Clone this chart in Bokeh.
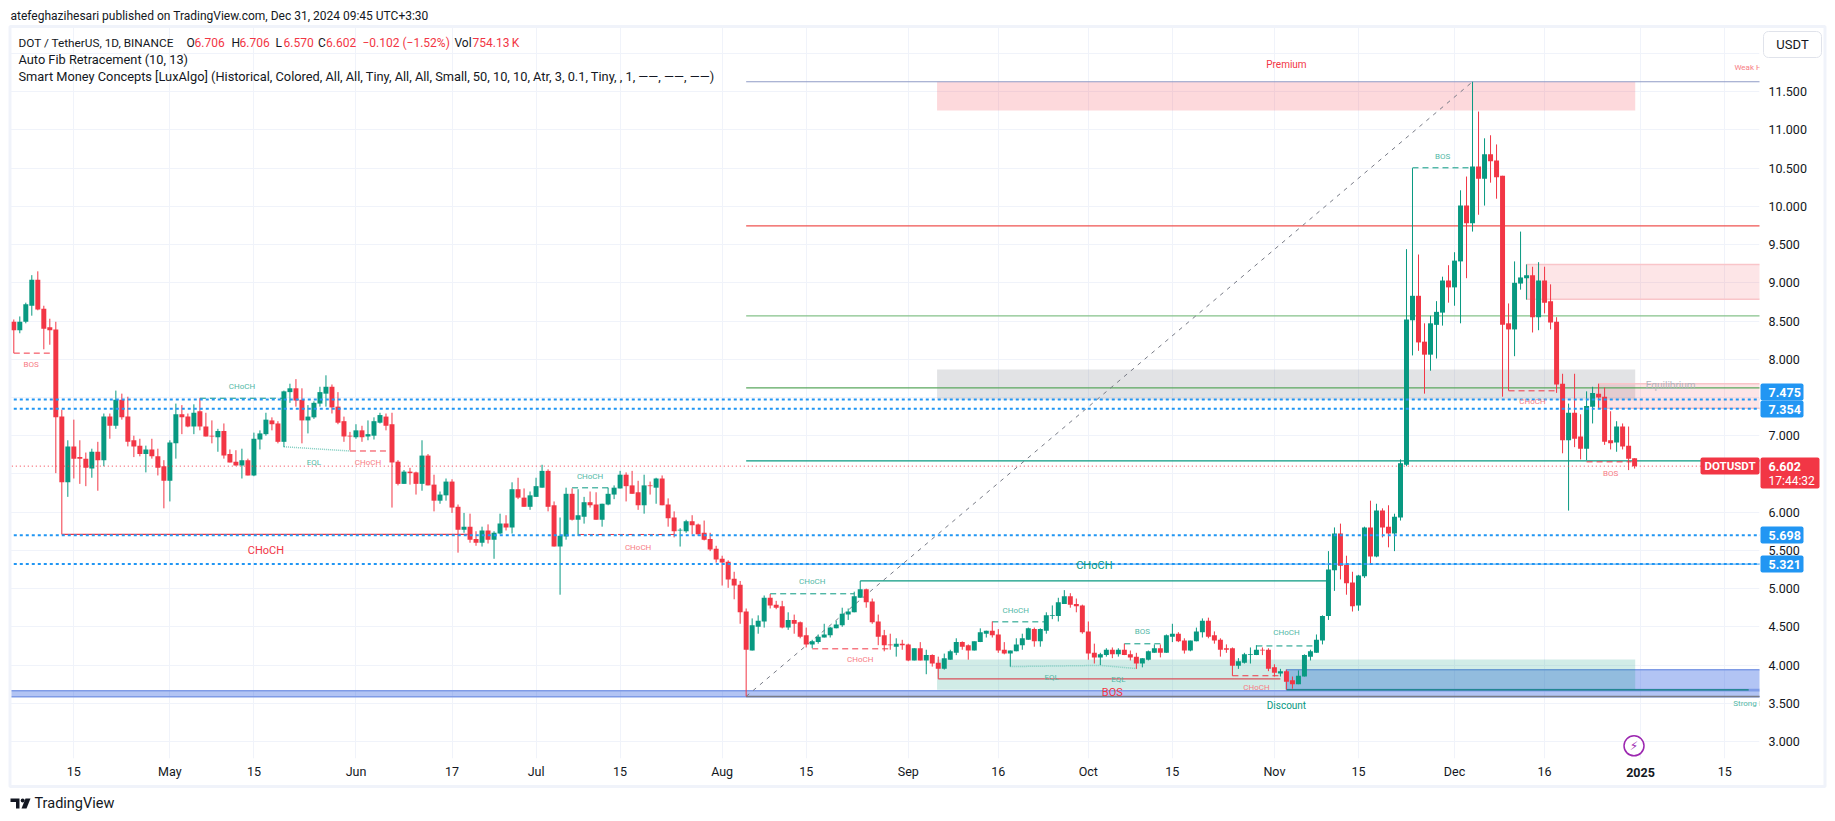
from bokeh.plotting import figure
from bokeh.embed import file_html
from bokeh.resources import INLINE
from bokeh.core.properties import value
from bokeh.models import FixedTicker, Range1d

# ---------- daily candles, one per day from 5 Apr 2024 to 31 Dec 2024 ----------
opens = [8.49,8.38,8.49,8.70,9.04,8.66,8.42,8.39,7.25,6.39,
6.86,6.72,6.70,6.57,6.79,6.68,7.25,7.13,7.47,7.25,
6.94,6.87,6.76,6.82,6.73,6.60,6.41,6.90,7.28,7.25,
7.12,7.32,7.12,7.00,6.98,7.06,6.76,6.66,6.61,6.68,
6.48,6.95,7.02,7.20,7.16,6.92,7.57,7.62,7.47,7.20,
7.24,7.42,7.55,7.64,7.38,7.19,7.00,6.98,7.07,6.99,
7.00,7.17,7.25,7.15,6.66,6.37,6.53,6.52,6.37,6.74,
6.36,6.15,6.22,6.40,6.07,5.77,5.81,5.65,5.60,5.76,
5.64,5.72,5.85,5.80,6.30,6.19,6.07,6.20,6.32,6.54,
6.09,5.55,5.68,6.24,5.90,5.94,6.13,6.10,5.90,6.10,
6.23,6.31,6.49,6.35,6.26,6.09,6.35,6.32,6.44,6.10,
5.93,5.76,5.75,5.88,5.84,5.73,5.65,5.52,5.39,5.35,
5.13,5.05,4.70,4.19,4.50,4.57,4.88,4.79,4.77,4.49,
4.59,4.56,4.39,4.27,4.30,4.36,4.39,4.48,4.52,4.66,
4.69,4.88,4.99,4.83,4.57,4.39,4.27,4.24,4.28,4.27,
4.06,4.22,4.06,4.13,4.03,3.95,4.07,4.16,4.30,4.26,
4.19,4.30,4.41,4.45,4.40,4.20,4.15,4.18,4.26,4.33,
4.47,4.31,4.45,4.64,4.64,4.80,4.90,4.80,4.78,4.44,
4.16,4.10,4.13,4.20,4.14,4.20,4.14,4.11,4.02,4.07,
4.16,4.22,4.16,4.37,4.41,4.32,4.19,4.31,4.43,4.58,
4.39,4.33,4.22,4.22,3.99,4.03,4.13,4.13,4.20,4.20,
3.97,3.89,3.92,3.80,3.75,3.85,4.11,4.16,4.32,4.64,
5.24,5.72,5.31,5.08,4.78,5.16,5.80,5.42,6.02,5.81,
5.72,5.93,6.62,8.51,8.83,8.23,8.06,8.45,8.61,9.03,
8.94,9.28,10.01,9.78,10.52,10.36,10.68,10.60,10.40,8.47,
8.39,8.99,9.06,9.10,8.55,9.03,8.76,8.49,7.68,6.94,
7.30,6.99,6.83,7.38,7.55,7.51,6.94,6.91,7.12,6.87,6.706]
highs = [8.52,8.56,8.74,9.10,9.15,8.70,8.53,8.49,7.34,6.94,
7.21,6.94,6.78,6.83,6.92,7.29,7.29,7.59,7.55,7.51,
7.00,6.96,6.87,6.96,6.83,6.68,6.94,7.42,7.40,7.29,
7.41,7.49,7.30,7.20,7.09,7.16,6.82,6.81,6.83,6.70,
7.04,7.07,7.30,7.24,7.19,7.59,7.68,7.74,7.62,7.40,
7.45,7.64,7.79,7.67,7.57,7.25,7.05,7.15,7.13,7.20,
7.24,7.30,7.29,7.30,6.68,6.55,6.58,6.53,6.94,6.76,
6.49,6.27,6.44,6.43,6.10,5.99,5.98,5.75,5.81,5.84,
5.75,5.98,5.96,6.39,6.45,6.31,6.27,6.45,6.62,6.56,
6.14,5.93,6.32,6.31,6.30,6.20,6.27,6.26,6.11,6.32,
6.35,6.54,6.52,6.54,6.41,6.49,6.40,6.45,6.48,6.18,
6.01,5.79,5.90,5.96,5.85,5.89,5.73,5.56,5.43,5.37,
5.22,5.10,4.74,4.61,4.65,4.91,4.93,4.84,4.84,4.69,
4.66,4.57,4.49,4.33,4.40,4.54,4.50,4.58,4.75,4.74,
4.96,5.10,5.00,4.87,4.66,4.46,4.41,4.35,4.33,4.28,
4.22,4.30,4.20,4.14,4.11,4.15,4.20,4.35,4.31,4.27,
4.31,4.48,4.45,4.57,4.47,4.30,4.19,4.35,4.41,4.49,
4.49,4.48,4.69,4.78,4.88,4.98,4.94,4.87,4.79,4.57,
4.28,4.16,4.22,4.23,4.22,4.28,4.19,4.16,4.09,4.19,
4.27,4.27,4.40,4.54,4.43,4.35,4.32,4.49,4.61,4.62,
4.44,4.35,4.27,4.23,4.09,4.16,4.23,4.26,4.23,4.22,
4.01,3.95,3.94,3.85,3.93,4.14,4.20,4.40,4.65,5.49,
5.80,5.85,5.43,5.22,5.18,5.81,6.15,6.11,6.05,6.09,
5.98,6.69,9.44,10.50,9.37,8.47,8.57,8.76,9.08,9.23,
9.40,10.21,10.39,11.63,11.24,10.89,10.93,10.81,10.40,8.73,
9.28,9.67,9.24,9.21,9.27,9.21,8.98,8.55,7.81,7.42,
7.81,7.28,7.58,7.64,7.68,7.63,7.32,7.19,7.16,7.12,6.706]
lows = [8.08,8.34,8.47,8.57,8.64,8.13,8.19,6.51,5.71,6.20,
6.44,6.37,6.34,6.45,6.28,6.60,6.96,7.09,7.21,6.86,
6.72,6.73,6.52,6.70,6.48,6.05,6.14,6.70,7.02,7.11,
7.02,7.07,6.99,6.90,6.79,6.70,6.65,6.61,6.44,6.48,
6.47,6.82,7.00,7.07,6.90,6.85,7.43,7.38,6.90,7.03,
7.22,7.38,7.38,7.29,7.15,6.92,6.81,6.96,6.92,6.94,
6.95,7.16,7.07,6.06,6.35,6.37,6.36,6.23,6.28,6.35,
6.01,6.11,6.15,5.99,5.47,5.73,5.60,5.56,5.55,5.59,
5.39,5.71,5.76,5.72,6.17,6.07,6.03,6.20,6.32,6.01,
5.55,4.92,5.64,5.89,5.69,5.85,6.06,5.90,5.81,6.09,
6.17,6.31,6.14,6.24,6.03,5.98,6.23,6.11,6.09,5.81,
5.67,5.55,5.73,5.71,5.69,5.63,5.49,5.34,5.04,5.01,
4.86,4.54,3.59,4.19,4.41,4.49,4.74,4.73,4.48,4.46,
4.41,4.35,4.23,4.22,4.28,4.36,4.36,4.48,4.50,4.59,
4.69,4.88,4.75,4.54,4.26,4.18,4.20,4.11,4.20,4.05,
4.06,4.06,3.88,3.98,3.82,3.94,4.07,4.13,4.20,4.07,
4.19,4.30,4.36,4.36,4.16,4.14,3.98,4.18,4.20,4.33,
4.24,4.24,4.41,4.60,4.57,4.80,4.75,4.69,4.41,4.07,
4.02,4.00,4.11,4.09,4.11,4.13,4.06,3.95,3.97,4.06,
4.16,4.10,4.16,4.30,4.30,4.15,4.18,4.31,4.36,4.35,
4.28,4.11,4.16,3.86,3.95,4.02,4.02,4.13,4.13,3.92,
3.85,3.85,3.68,3.69,3.75,3.85,4.06,4.16,4.27,4.59,
4.97,5.12,4.92,4.70,4.71,5.14,5.32,5.41,5.67,5.54,
5.49,5.89,6.60,8.05,8.11,7.55,7.85,8.01,8.44,8.74,
8.70,8.47,9.06,9.67,9.89,10.01,10.31,10.10,7.51,7.59,
8.04,8.91,8.78,8.35,8.38,8.60,8.39,7.56,6.77,6.02,
6.85,6.69,6.68,7.16,7.36,6.88,6.82,6.79,6.82,6.55,6.57]
closes = [8.38,8.49,8.72,9.04,8.65,8.40,8.38,7.24,6.39,6.86,
6.70,6.70,6.58,6.79,6.68,7.25,7.13,7.47,7.24,6.92,
6.86,6.76,6.82,6.73,6.58,6.41,6.91,7.28,7.24,7.12,
7.30,7.12,6.99,6.99,7.06,6.74,6.65,6.61,6.68,6.48,
6.96,7.03,7.21,7.15,6.92,7.58,7.62,7.46,7.20,7.25,
7.43,7.57,7.64,7.37,7.17,6.99,6.99,7.07,6.98,7.02,
7.19,7.27,7.13,6.65,6.37,6.53,6.51,6.37,6.74,6.35,
6.15,6.23,6.40,6.06,5.77,5.81,5.64,5.60,5.76,5.64,
5.73,5.85,5.80,6.30,6.19,6.07,6.22,6.34,6.54,6.07,
5.55,5.69,6.24,5.90,5.96,6.13,6.09,5.90,6.11,6.24,
6.32,6.49,6.34,6.24,6.09,6.35,6.34,6.44,6.09,5.92,
5.75,5.77,5.88,5.83,5.71,5.64,5.51,5.38,5.34,5.12,
5.04,4.69,4.20,4.52,4.58,4.88,4.78,4.75,4.49,4.59,
4.54,4.37,4.27,4.31,4.37,4.40,4.49,4.53,4.67,4.70,
4.90,4.99,4.82,4.56,4.37,4.26,4.26,4.28,4.26,4.06,
4.22,4.06,4.13,4.02,3.95,4.09,4.18,4.30,4.24,4.19,
4.31,4.43,4.45,4.39,4.19,4.15,4.19,4.27,4.35,4.48,
4.31,4.47,4.65,4.65,4.82,4.90,4.79,4.77,4.43,4.15,
4.10,4.14,4.20,4.14,4.20,4.13,4.10,4.02,4.09,4.18,
4.22,4.16,4.39,4.41,4.31,4.19,4.32,4.44,4.58,4.37,
4.32,4.20,4.20,3.99,4.05,4.14,4.14,4.20,4.19,3.95,
3.90,3.92,3.78,3.75,3.86,4.13,4.18,4.33,4.64,5.25,
5.72,5.30,5.07,4.77,5.17,5.80,5.42,6.02,5.80,5.72,
5.94,6.64,8.52,8.83,8.22,8.06,8.47,8.62,9.03,8.94,
9.29,10.01,9.78,10.52,10.36,10.68,10.59,10.38,8.45,8.39,
9.00,9.07,9.10,8.55,9.03,8.74,8.48,7.67,6.94,7.30,
6.96,6.83,7.39,7.56,7.50,6.92,6.90,7.12,6.86,6.70,6.602]

# ---------- axes ----------
date_ticks = [10,26,40,57,73,87,101,118,132,149,164,179,193,210,224,240,255,271,285]
date_labels = ["15","May","15","Jun","17","Jul","15","Aug","15","Sep","16","Oct","15","Nov","15","Dec","16","","15"]
year_label = "2025"
price_ticks = [3.0,3.5,4.0,4.5,5.0,5.5,6.0,6.5,7.0,7.5,8.0,8.5,9.0,9.5,10.0,10.5,11.0,11.5,12.0]
price_hidden = [6.5,7.5,12.0]

# ---------- horizontal levels ----------
blue_levels = [7.475,7.354,5.698,5.321]
last_close = 6.602
fib_start = 122
fib_levels = [11.63,9.745,8.568,7.626,6.671,5.32,3.59]
fib_colors = ["#8f9bc6","#ef5350","#85c28a","#5aa75e","#089981","#64b5f6","#787b86"]
fib_widths = [1.2,1.2,1.2,1.2,1.2,1.2,1.5]
trend_x = [122,243]
trend_y = [3.59,11.63]

# ---------- zones ----------
zone_left   = [-5,212,153.8,153.8,153.8,252,264]
zone_right  = [300,300,270.1,270.1,270.1,300,300]
zone_bottom = [3.585,3.68,3.676,11.254,7.47,8.786,7.36]
zone_top    = [3.665,3.94,4.073,11.63,7.866,9.239,7.678]
zone_fill   = ["#2f5fe0","#2f5fe0","#089981","#f23645","#787b86","#f23645","#f23645"]
zone_alpha  = [0.37,0.37,0.19,0.19,0.21,0.13,0.13]
zone_line   = ["#7f9be6","#7f9be6",None,None,None,"#f9c5c9","#f9c5c9"]

# ---------- structure lines ----------
dash_x0 = [0,56,94,133,203,249,262, 31,93,126,163,185,207,233]
dash_x1 = [6.4,62,110,146,211,257,269.5, 45,99,140,172,192,217,243]
dash_y  = [8.08,6.80,5.708,4.212,3.86,7.587,6.658, 7.49,6.318,4.932,4.565,4.278,4.25,10.504]
dash_c  = ["#f23645"]*7 + ["#089981"]*7
solid_x0 = [8,141,154,212]
solid_x1 = [75.6,219,211,289]
solid_y  = [5.708,5.102,3.82,3.676]
solid_c  = ["#f23645","#089981","#d8505a","#0b7f7a"]
eql_x0 = [45,166,181]
eql_x1 = [56,181,187]
eql_y0 = [6.855,3.98,3.995]
eql_y1 = [6.80,3.995,3.955]

# ---------- chart texts ----------
small_t = ["BOS","CHoCH","EQL","CHoCH","CHoCH","CHoCH","CHoCH","CHoCH","CHoCH","EQL","EQL","BOS","CHoCH","CHoCH","BOS","CHoCH","BOS"]
small_x = [2.9,38,50,59,96,104,133,141,166.9,172.9,184,188,212,207,238,253,266]
small_y = [7.93,7.64,6.654,6.654,6.47,5.542,5.089,4.068,4.72,3.84,3.807,4.443,4.42,3.70,10.657,7.443,6.501]
small_c = ["#f77c85","#52b8a6","#52b8a6","#f77c85","#52b8a6","#f77c85","#52b8a6","#f77c85","#52b8a6","#52b8a6","#52b8a6","#52b8a6","#52b8a6","#f77c85","#52b8a6","#f77c85","#f77c85"]
big_t = ["CHoCH","CHoCH","BOS"]
big_x = [42,180,183]
big_y = [5.50,5.30,3.637]
big_c = ["#f23645","#089981","#f23645"]
zone_t = ["Premium","Discount","Equilibrium"]
zone_tx = [212,212,276]
zone_ty = [11.85,3.47,7.655]
zone_tc = ["#f23645","#089981","#b2b5be"]
edge_t = ["Weak High","Strong Low"]
edge_x = [289.8,289.8]
edge_y = [11.816,3.50]
edge_c = ["#f77c85","#52b8a6"]
bolt_x = [269.9]
bolt_y = [2.944]

W, H = 1835, 821
PX_L, PX_R, PX_T, PX_B = 10, 1759, 27, 758
to_x = lambda px: (px - 13.3) / 6.003
to_y = lambda py: 3 + (741 - py) / 76.45

p = figure(width=W, height=H, output_backend="svg", toolbar_location=None,
           x_range=Range1d(to_x(PX_L), to_x(PX_R)), y_range=Range1d(to_y(PX_B), to_y(PX_T)),
           y_axis_location="right", min_border_left=PX_L, min_border_right=W-PX_R,
           min_border_top=PX_T, min_border_bottom=H-PX_B)
p.outline_line_color = None
p.background_fill_color = "white"
p.border_fill_color = "white"

AF = "Roboto"
for ax in (p.xaxis[0], p.yaxis[0]):
    ax.axis_line_color = None
    ax.major_tick_line_color = None
    ax.minor_tick_line_color = None
    ax.major_tick_out = 0
    ax.major_tick_in = 0
    ax.major_label_text_color = "#131722"
    ax.major_label_text_font = AF
    ax.major_label_text_font_size = "12.5px"
p.xaxis[0].ticker = FixedTicker(ticks=date_ticks)
p.xaxis[0].major_label_overrides = dict(zip(date_ticks, date_labels))
p.xaxis[0].major_label_standoff = 5
p.yaxis[0].ticker = FixedTicker(ticks=price_ticks)
p.yaxis[0].major_label_overrides = {t: ("" if t in price_hidden else f"{t:.3f}") for t in price_ticks}
p.yaxis[0].major_label_standoff = 9
p.xgrid.grid_line_color = "#f0f3fa"
p.ygrid.grid_line_color = "#f0f3fa"

# zones
p.quad(left=zone_left, right=zone_right, bottom=zone_bottom, top=zone_top,
       fill_color=zone_fill, fill_alpha=zone_alpha, line_color=zone_line, line_width=1.5)

# fib levels and trend
p.segment(x0=[fib_start]*len(fib_levels), x1=[300]*len(fib_levels), y0=fib_levels, y1=fib_levels,
          line_color=fib_colors, line_width=fib_widths)
p.line(trend_x, trend_y, line_color="#787b86", line_width=1, line_dash="4 5")

# structure
p.segment(x0=solid_x0, x1=solid_x1, y0=solid_y, y1=solid_y, line_color=solid_c, line_width=1.2)
p.segment(x0=dash_x0, x1=dash_x1, y0=dash_y, y1=dash_y, line_color=dash_c, line_width=1, line_dash="6 4")
p.segment(x0=eql_x0, x1=eql_x1, y0=eql_y0, y1=eql_y1, line_color="#7fcdbf", line_width=1.5, line_dash="1 1")

# candles
xs = list(range(len(opens)))
cols = ["#089981" if c >= o else "#f23645" for o, c in zip(opens, closes)]
p.segment(x0=xs, x1=xs, y0=lows, y1=highs, line_color=cols, line_width=1)
p.vbar(x=xs, width=0.83, top=[max(o, c) for o, c in zip(opens, closes)],
       bottom=[min(o, c) for o, c in zip(opens, closes)], fill_color=cols, line_color=None)

# price lines
p.segment(x0=[-5]*len(blue_levels), x1=[300]*len(blue_levels), y0=blue_levels, y1=blue_levels,
          line_color="#2196f3", line_width=2, line_dash="3 3")
p.segment(x0=[-5], x1=[300], y0=[last_close], y1=[last_close], line_color="#f23645", line_width=1, line_dash="1 3")

# texts in the pane
p.text(small_x, small_y, text=small_t, text_color=small_c, text_font=value("Roboto"), text_font_size="8px",
       text_align="center", text_baseline="middle")
p.text(big_x, big_y, text=big_t, text_color=big_c, text_font=value("Roboto"), text_font_size="11px",
       text_align="center", text_baseline="middle")
p.text(zone_tx, zone_ty, text=zone_t, text_color=zone_tc, text_font=value("Roboto"), text_font_size="10px",
       text_align="center", text_baseline="middle")
p.text(edge_x, edge_y, text=edge_t, text_color=edge_c, text_font=value("Roboto"), text_font_size="8px",
       text_align="center", text_baseline="middle")
p.scatter(bolt_x, bolt_y, size=20, marker="circle", fill_color="white", line_color="#9c27b0", line_width=1.5)
p.text(bolt_x, bolt_y, text=["\u26a1"], text_color="#9c27b0", text_font=value("DejaVu Sans"), text_font_size="12px",
       text_align="center", text_baseline="middle")

# ---------- transparent layer over the whole page for header, badges, frame and footer ----------
o = figure(width=W, height=H, output_backend="svg", toolbar_location=None,
           x_range=Range1d(0, W), y_range=Range1d(H, 0),
           x_axis_location=None, y_axis_location=None,
           min_border_left=0, min_border_right=0, min_border_top=0, min_border_bottom=0,
           background_fill_color=None, border_fill_color=None, outline_line_color=None,
           styles={"position": "absolute", "left": "0px", "top": "0px"})
o.grid.visible = False

def box(x0, x1, y0, y1, fill, line=None, lw=1, radius=0, alpha=1):
    o.quad(left=[x0], right=[x1], top=[y0], bottom=[y1], fill_color=fill, fill_alpha=alpha,
           line_color=line, line_width=lw, border_radius=radius)

def txt(x, y, s, color="#131722", size=12.8, font=AF, align="left", style="normal"):
    o.text([x], [y], text=[s], text_color=color, text_font=value(font), text_font_size=f"{size}px",
           text_align=align, text_baseline="middle", text_font_style=style)

box(9.5, 1824.5, 26, 786, "white", line="#f0f3fa", lw=3, alpha=0)

# header
txt(10, 15, "atefeghazihesari published on TradingView.com, Dec 31, 2024 09:45 UTC+3:30", size=12)
txt(18, 42, "DOT / TetherUS, 1D, BINANCE", size=11.8)
for x, lab, val in [(186, "O", "6.706"), (231, "H", "6.706"), (275, "L", "6.570"), (317.5, "C", "6.602")]:
    txt(x, 42, lab, size=12)
    txt(x + 8, 42, val, color="#f23645", size=12)
txt(362, 42, "\u22120.102 (\u22121.52%)", color="#f23645", size=12)
txt(454, 42, "Vol", size=12)
txt(472, 42, "754.13\u2009K", color="#f23645", size=12)
txt(18, 59, "Auto Fib Retracement (10, 13)")
txt(18, 76, "Smart Money Concepts [LuxAlgo] (Historical, Colored, All, All, Tiny, All, All, Small, 50, 10, 10, Atr, 3, 0.1, Tiny, , 1, \u2014\u2014, \u2014\u2014, \u2014\u2014)")

# unit button
box(1763, 1821, 31, 57, "white", line="#e0e3eb", lw=1, radius=5)
txt(1792, 44, "USDT", align="center", size=13)

# price badges
for v, (y0, y1) in zip(blue_levels, [(383, 400), (400, 417), (526, 543), (555, 572)]):
    box(1760, 1803, y0, y1, "#2196f3", radius=2)
    txt(1768, (y0 + y1) / 2, f"{v:.3f}", color="white", style="bold", size=12.5)
box(1760, 1819, 457, 488, "#f23645", radius=2)
txt(1768, 465.5, f"{last_close:.3f}", color="white", style="bold", size=12.5)
txt(1768, 480, "17:44:32", color="white", size=12)
box(1700, 1759, 457, 474, "#f23645", radius=2)
txt(1729.5, 465.5, "DOTUSDT", color="white", style="bold", size=11.5, align="center")

# bold year label
txt(1640, 772, year_label, align="center", style="bold", size=12.5)

# footer logo
o.patch([10, 19, 19, 15.5, 15.5, 10], [798, 798, 808, 808, 801.5, 801.5], fill_color="#131722", line_color=None)
o.patch([25, 30, 26, 21], [798, 798, 808, 808], fill_color="#131722", line_color=None)
o.scatter([22.2], [800], size=4, marker="circle", fill_color="#131722", line_color=None)
txt(34, 803, "TradingView", size=14.5)

open("out.html", "w").write(file_html([p, o], INLINE))
